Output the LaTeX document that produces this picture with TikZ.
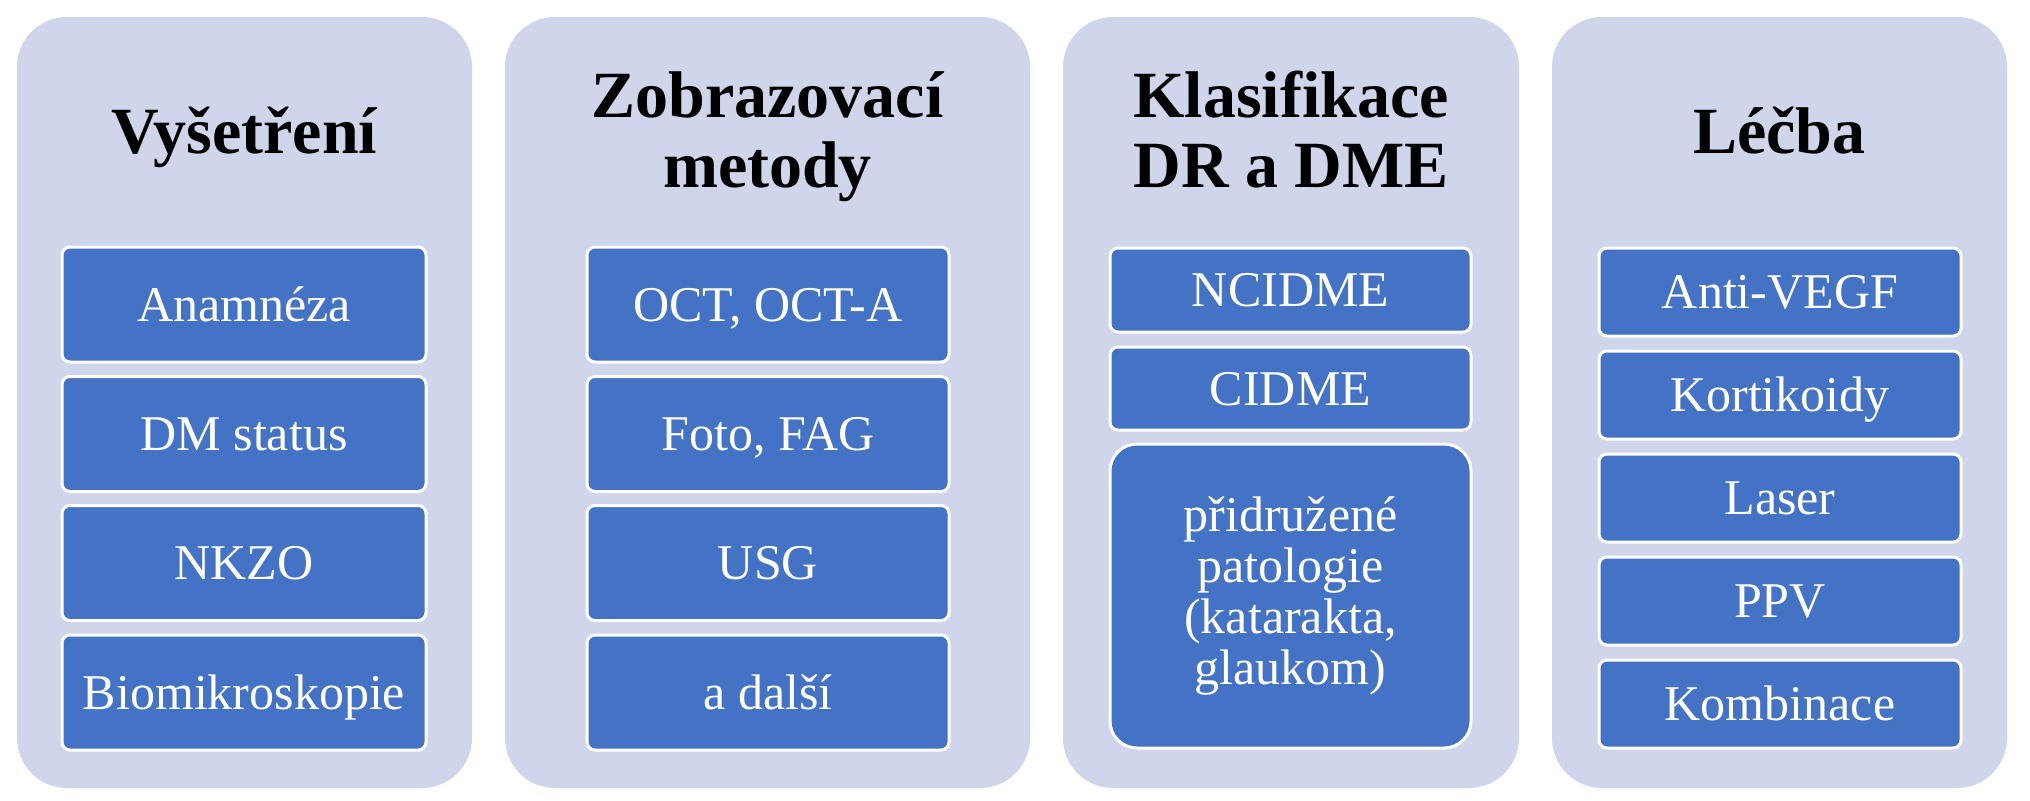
\documentclass[tikz,border=0pt]{standalone}
\usepackage{fontspec}
\setmainfont{Liberation Serif}
\definecolor{panelfill}{HTML}{CFD5EA}
\definecolor{boxfill}{HTML}{4472C4}
\tikzset{
  panel/.style={fill=panelfill, rounded corners=25pt, inner sep=0pt, minimum height=385.5pt},
  item/.style={fill=boxfill, draw=white, line width=1.5pt, rounded corners=4pt, text=white,
    font=\fontsize{25}{25}\selectfont, inner sep=0pt, text height=16.5pt, text depth=0pt},
  bigitem/.style={fill=boxfill, draw=white, line width=1.5pt, rounded corners=13.5pt, text=white,
    font=\fontsize{25}{25.5}\selectfont, inner sep=0pt, align=center},
  title/.style={font=\fontsize{33}{35}\selectfont\bfseries, anchor=base, inner sep=0pt},
}
\begin{document}
\begin{tikzpicture}[x=0.5pt,y=-0.5pt]
\useasboundingbox (0,0) rectangle (2030,800);
\fill[white] (0,0) rectangle (2030,800);
% panels
\node[panel, minimum width=227.5pt] (p1) at (244.5,402.5) {};
\node[panel, minimum width=262.5pt] (p2) at (767.5,402.5) {};
\node[panel, minimum width=228pt]   (p3) at (1291,402.5) {};
\node[panel, minimum width=227.5pt] (p4) at (1779.5,402.5) {};
% titles
\node[title] (t1) at (244.5,153) {Vyšetření};
\node[title] (t2) at (767.5,117) {\begin{tabular}[t]{@{}c@{}}Zobrazovací\\metody\end{tabular}};
\node[title] (t3) at (1291,117) {\begin{tabular}[t]{@{}c@{}}Klasifikace\\DR a DME\end{tabular}};
\node[title] (t4) at (1779.5,153) {Léčba};
% panel 1
\node[item, minimum width=182pt, minimum height=57.5pt] (a1) at (244,304.5) {Anamnéza};
\node[item, minimum width=182pt, minimum height=57.5pt] (a2) at (244,434) {DM status};
\node[item, minimum width=182pt, minimum height=57.5pt] (a3) at (244,563) {NKZO};
\node[item, minimum width=182pt, minimum height=57.5pt] (a4) at (244,692.5) {Biomikroskopie};
% panel 2
\node[item, minimum width=181pt, minimum height=57.5pt] (b1) at (768,304.5) {OCT, OCT-A};
\node[item, minimum width=181pt, minimum height=57.5pt] (b2) at (768,434) {Foto, FAG};
\node[item, minimum width=181pt, minimum height=57.5pt] (b3) at (768,563) {USG};
\node[item, minimum width=181pt, minimum height=57.5pt] (b4) at (768,692.5) {a další};
% panel 3
\node[item, minimum width=180.5pt, minimum height=42pt] (c1) at (1290.5,290) {NCIDME};
\node[item, minimum width=180.5pt, minimum height=41.5pt] (c2) at (1290.5,388.5) {CIDME};
\node[bigitem, minimum width=180.5pt, minimum height=152pt] (c3) at (1290.5,596) {přidružené\\patologie\\(katarakta,\\glaukom)};
% panel 4
\node[item, minimum width=181pt, minimum height=44pt] (d1) at (1780,292) {Anti-VEGF};
\node[item, minimum width=181pt, minimum height=44pt] (d2) at (1780,395) {Kortikoidy};
\node[item, minimum width=181pt, minimum height=44pt] (d3) at (1780,498) {Laser};
\node[item, minimum width=181pt, minimum height=44pt] (d4) at (1780,601) {PPV};
\node[item, minimum width=181pt, minimum height=44pt] (d5) at (1780,704) {Kombinace};
\end{tikzpicture}
\end{document}
